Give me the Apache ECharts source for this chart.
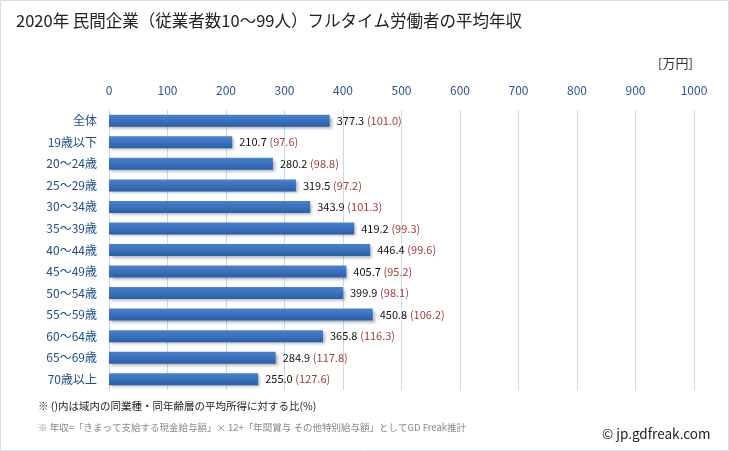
<!DOCTYPE html>
<html><head><meta charset="utf-8">
<script src="https://cdn.jsdelivr.net/npm/echarts@6/dist/echarts.min.js"></script>
<style>html,body{margin:0;padding:0;background:#fff}#c{width:729px;height:451px}</style>
</head><body><div id="c"></div>
<script>
const categories = ['全体','19歳以下','20～24歳','25～29歳','30～34歳','35～39歳','40～44歳','45～49歳','50～54歳','55～59歳','60～64歳','65～69歳','70歳以上'];
const values = [377.3,210.7,280.2,319.5,343.9,419.2,446.4,405.7,399.9,450.8,365.8,284.9,255.0];
const ratios = ['101.0','97.6','98.8','97.2','101.3','99.3','99.6','95.2','98.1','106.2','116.3','117.8','127.6'];
const xTicks = [0,100,200,300,400,500,600,700,800,900,1000];

const chart = echarts.init(document.getElementById('c'));
const font = '"Noto Sans CJK JP", "Noto Sans", sans-serif';
chart.setOption({
  animation:false,
  textStyle:{fontFamily:font},
  graphic:[
    {type:'rect',shape:{x:0.5,y:0.5,width:728,height:450},style:{fill:'none',stroke:'#d3deec',lineWidth:1}},
    {type:'text',left:16,top:12,style:{text:'2020年 民間企業（従業者数10～99人）フルタイム労働者の平均年収',font:'16.5px '+font,fill:'#222'}},
    {type:'text',left:658,top:57,style:{text:'[万円]',font:'13px '+font,fill:'#333'}},
    {type:'text',left:38,top:401,style:{text:'※ ()内は域内の同業種・同年齢層の平均所得に対する比(%)',font:'10.5px '+font,fill:'#222'}},
    {type:'text',left:38,top:423,style:{text:'※ 年収=「きまって支給する現金給与額」× 12+「年間賞与 その他特別給与額」としてGD Freak推計',font:'9.5px '+font,fill:'#888'}},
    {type:'text',left:602,top:427,style:{text:'© jp.gdfreak.com',font:'13.5px '+font,fill:'#222'}}
  ],
  grid:{left:109,right:35,top:110,bottom:61},
  xAxis:{type:'value',position:'top',min:0,max:1000,interval:100,
    axisLine:{show:false},axisTick:{show:false},
    axisLabel:{color:'#2f5596',fontSize:12,margin:14,formatter:v=>String(v)},
    splitLine:{lineStyle:{color:'#c9d9ec',width:1}}},
  yAxis:{type:'category',data:categories,inverse:true,
    axisLine:{show:true,lineStyle:{color:'#c9d9ec'}},axisTick:{show:false},
    axisLabel:{color:'#1f4e8c',fontSize:12,margin:12}},
  series:[{type:'bar',barWidth:12,
    data:values.map((v,i)=>({value:v,ratio:ratios[i]})),
    itemStyle:{color:new echarts.graphic.LinearGradient(0,0,0,1,[
      {offset:0,color:'#4a82cc'},{offset:0.5,color:'#3a70bd'},{offset:1,color:'#2b5ea6'}]),
      shadowColor:'rgba(0,0,0,0.3)',shadowBlur:3,shadowOffsetX:2,shadowOffsetY:2},
    label:{show:true,position:'right',distance:7,
      formatter:p=>'{v|'+values[p.dataIndex].toFixed(1)+'} {r|('+ratios[p.dataIndex]+')}',
      rich:{v:{color:'#111',fontSize:11},r:{color:'#a0403c',fontSize:11}}}
  }]
});
</script></body></html>
